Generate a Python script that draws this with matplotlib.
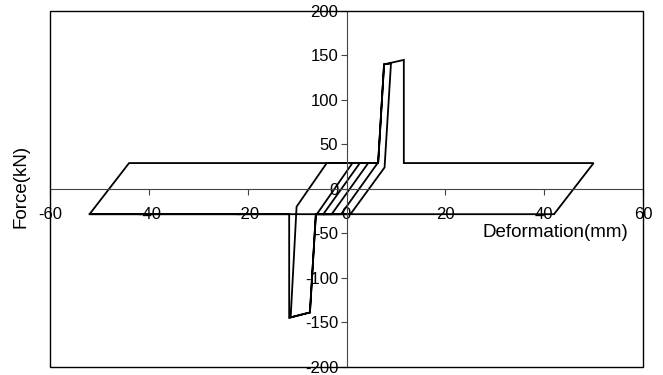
import matplotlib
matplotlib.use("Agg")
import matplotlib.pyplot as plt
from matplotlib.patches import Rectangle

plt.rcParams["font.family"] = ["Liberation Sans", "DejaVu Sans"]
plt.rcParams["axes.unicode_minus"] = False

# hysteresis path (mm, kN)
deformation = [
    -4.7, 2.7, 4.4, -3.0, -6.0, 1.2, 6.3, -1.1,
    -6.2, -7.4, -11.3, -10.1, -4.0,
    6.4, 7.6, 9.0, 7.7, 0.8,
    -6.2, -7.4, -11.6, -11.6, -52.0, -44.0,
    6.4, 7.6, 11.6, 11.6, 50.0, 42.0, -52.0,
]
force = [
    -28.5, 29.0, 29.0, -28.5, -28.5, 29.0, 29.0, -28.5,
    -28.5, -139.0, -144.5, -20.0, 29.0,
    29.0, 140.0, 141.0, 24.0, -28.5,
    -28.5, -139.0, -145.0, -28.5, -28.5, 29.0,
    29.0, 140.0, 145.0, 29.0, 29.0, -28.5, -28.5,
]

x_ticks = [-60, -40, -20, 0, 20, 40, 60]
y_ticks = [-200, -150, -100, -50, 0, 50, 100, 150, 200]

fig = plt.figure(figsize=(6.63, 3.75), dpi=100)
ax = fig.add_axes([50 / 663, 1 - 366.7 / 375, 593 / 663, 355.7 / 375])

ax.plot(deformation, force, color="black", lw=1.3, solid_joinstyle="miter")

ax.set_xlim(-60, 60)
ax.set_ylim(-200, 200)
ax.set_xticks(x_ticks)
ax.set_yticks(y_ticks)

# axes through the origin
ax.spines["left"].set_position(("data", 0))
ax.spines["bottom"].set_position(("data", 0))
ax.spines["top"].set_visible(False)
ax.spines["right"].set_visible(False)
for s in ("left", "bottom"):
    ax.spines[s].set_color("#444444")
    ax.spines[s].set_linewidth(0.8)

# outer frame
ax.add_patch(Rectangle((0, 0), 1, 1, transform=ax.transAxes, fill=False,
                       edgecolor="black", lw=1.0, clip_on=False, zorder=5))

ax.tick_params(axis="x", direction="out", length=4, width=0.8, color="#444444",
               labelsize=12, pad=9)
ax.tick_params(axis="y", direction="out", length=4, width=0.8, color="#444444",
               labelsize=12, pad=2)

ax.set_xlabel("Deformation(mm)", fontsize=13.5, va="center")
ax.xaxis.set_label_coords(0.852, 0.376)
ax.set_ylabel("Force(kN)", fontsize=13.5, va="center")
ax.yaxis.set_label_coords(-0.049, 0.508)

fig.savefig("out.png", dpi=100)
